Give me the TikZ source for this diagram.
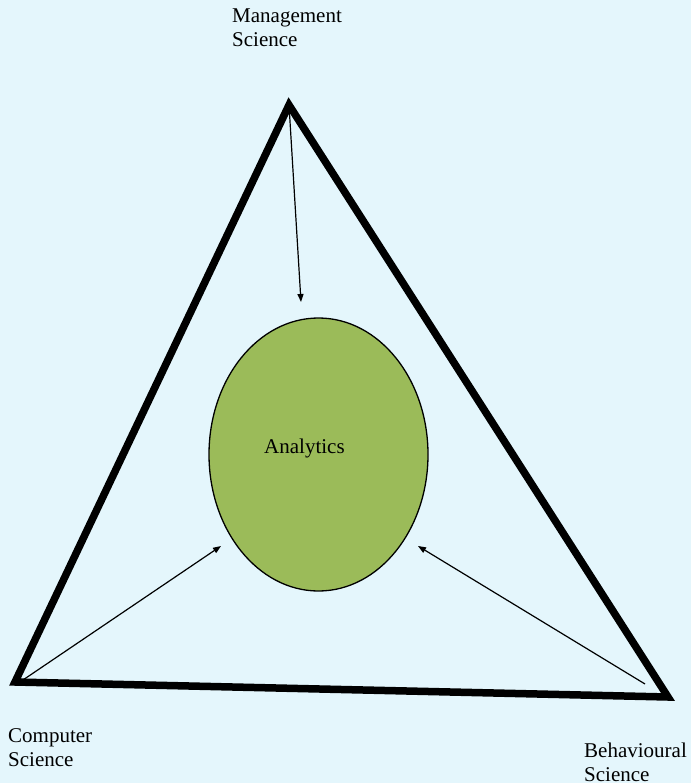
\documentclass[tikz,border=0pt]{standalone}
\usepackage{fontspec}
\setmainfont{Liberation Serif}
\usetikzlibrary{arrows.meta,shapes.geometric}
\definecolor{bgc}{RGB}{228,246,252}
\definecolor{anagreen}{RGB}{155,187,89}
\tikzset{
  lbl/.style={anchor=base west,inner sep=0pt,align=left,font=\fontsize{21}{24}\selectfont},
  frame/.style={line width=7.5pt,line join=miter,miter limit=3},
  feed/.style={line width=1.2pt,-{Triangle[length=8pt,width=6pt]}}
}
\begin{document}
\begin{tikzpicture}[x=1pt,y=-1pt]
\fill[bgc] (0,0) rectangle (691,783);
\useasboundingbox (0,0) rectangle (691,783);
\coordinate (top) at (289,105);
\coordinate (bl) at (15,682);
\coordinate (br) at (668,697);
\draw[frame] (top) -- (br) -- (bl) -- cycle;
\node[ellipse,draw,line width=1.3pt,fill=anagreen,minimum width=219,minimum height=273,inner sep=0pt] (ana) at (318.5,454.5) {};
\node[lbl] (anat) at (264,453) {Analytics};
\coordinate (tipm) at (301,302);
\coordinate (tipc) at (221,546);
\coordinate (tipb) at (418,546);
\coordinate (stc) at (20,682);
\coordinate (stb) at (645,684);
\draw[feed] (top) -- (tipm);
\draw[feed] (stc) -- (tipc);
\draw[feed] (stb) -- (tipb);
\node[lbl] (ms) at (232,47) {Management\\Science};
\node[lbl] (cs) at (8,766) {Computer\\Science};
\node[lbl] (bs) at (584,781) {Behavioural\\Science};
\end{tikzpicture}
\end{document}
